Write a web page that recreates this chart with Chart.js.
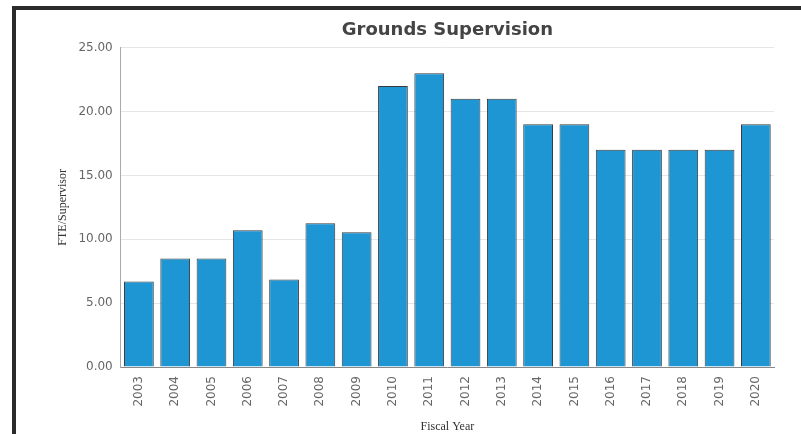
<!DOCTYPE html>
<html>
<head>
<meta charset="utf-8">
<script src="https://cdn.jsdelivr.net/npm/chart.js@4"></script>
<style>
    html, body { margin: 0; padding: 0; background: #fff; }
    #frame {
        position: absolute; left: 12px; top: 6px;
        width: 785px; height: 424px;
        border-top: 4px solid #2b2b2b;
        border-left: 4px solid #2b2b2b;
    }
    #chart-box { position: relative; width: 785px; height: 424px; }
</style>
</head>
<body>
<div id="frame">
    <div id="chart-box"><canvas id="grounds-chart"></canvas></div>
</div>
<script>
const years = ['2003', '2004', '2005', '2006', '2007', '2008', '2009', '2010', '2011',
    '2012', '2013', '2014', '2015', '2016', '2017', '2018', '2019', '2020']
const ftePerSupervisor = [6.7, 8.5, 8.5, 10.7, 6.85, 11.25, 10.55, 22, 23,
    21, 21, 19, 19, 17, 17, 17, 17, 19]
const yTicks = [0, 5, 10, 15, 20, 25]

const ctx = document.getElementById('grounds-chart').getContext('2d')

new Chart(ctx, {
    type: 'bar',
    data: {
        labels: years,
        datasets: [{
            label: 'FTE/Supervisor',
            data: ftePerSupervisor,
            backgroundColor: '#1e96d4',
            borderColor: '#3a3a3a',
            borderWidth: 1,
            barPercentage: 0.82,
            categoryPercentage: 1
        }]
    },
    options: {
        responsive: true,
        maintainAspectRatio: false,
        animation: false,
        layout: { padding: { left: 40, right: 27, top: 0, bottom: 0 } },
        plugins: {
            legend: { display: false },
            tooltip: { enabled: false },
            title: {
                display: true,
                fullSize: false,
                text: 'Grounds Supervision',
                color: '#444',
                font: { family: 'DejaVu Sans', size: 18, weight: 'bold' },
                padding: { top: 10, bottom: 6 }
            }
        },
        scales: {
            x: {
                grid: { display: false, drawTicks: false },
                border: { color: '#888', width: 1 },
                ticks: {
                    color: '#666',
                    font: { family: 'DejaVu Sans', size: 12 },
                    minRotation: 90,
                    maxRotation: 90,
                    padding: 9
                },
                title: {
                    display: true,
                    text: 'Fiscal Year',
                    color: '#333',
                    font: { family: 'Liberation Serif', size: 12 },
                    padding: { top: 4, bottom: 0 }
                }
            },
            y: {
                min: 0,
                max: 25,
                afterBuildTicks: axis => { axis.ticks = yTicks.map(v => ({ value: v })) },
                grid: { color: '#e6e6e6', drawTicks: false },
                border: { color: '#aaa', width: 1 },
                ticks: {
                    color: '#666',
                    font: { family: 'DejaVu Sans', size: 12 },
                    padding: 8,
                    callback: v => Number(v).toFixed(2)
                },
                title: {
                    display: true,
                    text: 'FTE/Supervisor',
                    color: '#333',
                    font: { family: 'Liberation Serif', size: 12 },
                    padding: { top: 0, bottom: 0 }
                }
            }
        }
    }
})
</script>
</body>
</html>
